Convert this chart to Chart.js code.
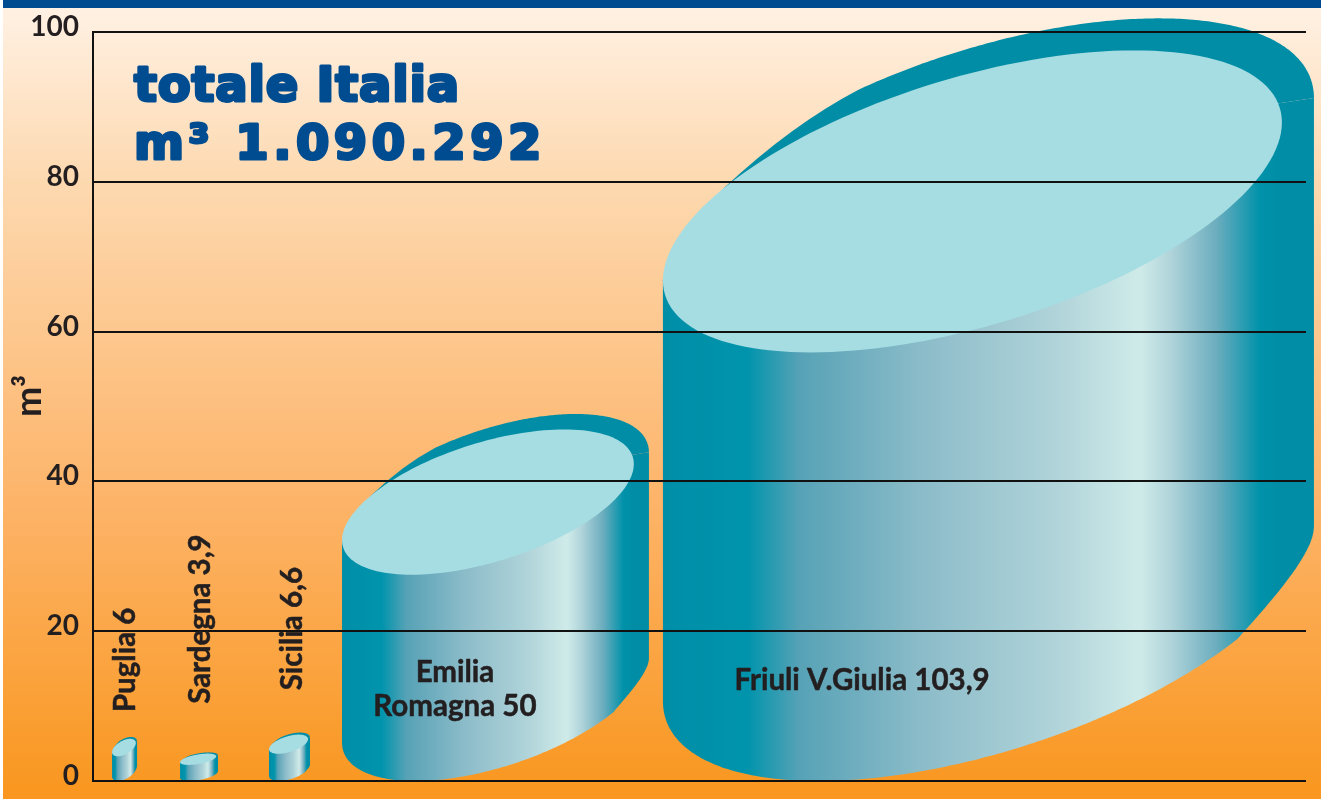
<!DOCTYPE html>
<html lang="it">
<head>
<meta charset="utf-8">
<title>Totale Italia</title>
<script src="https://cdn.jsdelivr.net/npm/chart.js@4/dist/chart.umd.js"></script>
<style>
  html, body { margin: 0; padding: 0; background: #fff; }
  canvas { display: block; }
</style>
</head>
<body>
<canvas id="chart" width="1326" height="799"></canvas>
<script>
// Regional volumes, in m3 on the value axis
const regions = ['Puglia', 'Sardegna', 'Sicilia', 'Emilia Romagna', 'Friuli V.Giulia'];
const volumes = [6, 3.9, 6.6, 50, 103.9];
const yTicks = [0, 20, 40, 60, 80, 100];
const headline = ['totale Italia', 'm³ 1.090.292'];
const yAxisName = 'm³';

// Tank placement along the hidden horizontal scale (0-100)
const tankCentre = [2.6, 8.74, 16.2, 33.18, 73.82];
const tankDiameter = [2.06, 3.13, 3.38, 25.3, 53.67];

// Label anchors as [x-scale, y-scale] pairs; the first three run vertically
const labelAnchor = [[2.7, 9.2], [8.9, 10.3], [16.45, 12.1], [29.84, 13.2], [63.4, 12.1]];

const INK = '#231f20';
const BLUE = '#004c91';
const TEAL = '#008da5';
const LID = '#a6dde2';
const LABEL_FONT = 'bold 29.5px Lato, "Noto Sans", sans-serif';

const wallStops = [
  [0, '#008ea7'], [0.13, '#0094ac'], [0.21, '#57a2b6'], [0.4, '#8cbcc9'],
  [0.6, '#afd3d9'], [0.733, '#cfebe9'], [0.78, '#b0d4da'], [0.85, '#6cadbe'], [0.917, '#0092aa'], [0.95, TEAL], [1, TEAL]
];

const SKEW = -0.55;        // phase shift that tilts the lid ellipses
const RIM_RY = 0.219;      // outer rim half-height, share of tank height
const LID_RY = 0.198;      // inner lid half-height
const LID_CY = 0.24;       // inner lid centre below the tank top
const HEIGHT_SHARE = 0.98; // the curved back rim stops just short of the full height
const RIM_JOIN_X = 0.0945; // where the back rim emerges from behind the lid, share of width
const RIM_CTRL_T = 4.06;   // ring angle used as the control point of the rim's taper
const RIM_FREE_T = 4.3;    // ring angle at which the rim follows its own ellipse
const FOOT_KINK_T = 0.7;   // ring angle of the small kink at the lower right of the wall

function ringPoint(cx, cy, rx, ry, t) {
  return [cx + rx * Math.cos(t), cy + ry * Math.sin(t + SKEW)];
}

function trace(ctx, cx, cy, rx, ry, from, to, first) {
  const steps = 160;
  for (let i = 0; i <= steps; i++) {
    const t = from + (to - from) * i / steps;
    const p = ringPoint(cx, cy, rx, ry, t);
    if (i === 0 && first) ctx.moveTo(p[0], p[1]); else ctx.lineTo(p[0], p[1]);
  }
}

function drawTank(ctx, xScale, yScale, index) {
  const left = xScale.getPixelForValue(tankCentre[index] - tankDiameter[index] / 2);
  const right = xScale.getPixelForValue(tankCentre[index] + tankDiameter[index] / 2);
  const base = yScale.getPixelForValue(0);
  const height = (base - yScale.getPixelForValue(volumes[index])) * HEIGHT_SHARE;
  const top = base - height;
  const width = right - left;
  const cx = (left + right) / 2;
  const rx = width / 2;
  const ry = height * RIM_RY;
  const lidRx = width * 0.4754;
  const lidCx = left + lidRx;
  const lidCy = top + height * LID_CY;
  const lidRy = height * LID_RY;

  const lidLeft = ringPoint(lidCx, lidCy, lidRx, lidRy, Math.PI);
  const upperRight = ringPoint(cx, top + ry, rx, ry, 0);
  const footRight = ringPoint(cx, base - ry, rx, ry, 0);
  const kink = ringPoint(cx, base - ry, rx, ry, FOOT_KINK_T);
  const joinT = Math.PI + Math.acos((lidCx - (left + width * RIM_JOIN_X)) / lidRx);
  const join = ringPoint(lidCx, lidCy, lidRx, lidRy, joinT);

  // Cylinder wall: left edge, front curve of the foot, right edge
  const wall = ctx.createLinearGradient(left, 0, right, 0);
  wallStops.forEach(s => wall.addColorStop(s[0], s[1]));
  ctx.fillStyle = wall;
  ctx.beginPath();
  trace(ctx, cx, base - ry, rx, ry, Math.PI, FOOT_KINK_T, true);
  ctx.bezierCurveTo(
    kink[0] + width * 0.058, kink[1] - height * 0.055,
    right, footRight[1] + height * 0.034,
    footRight[0], footRight[1]
  );
  ctx.lineTo(upperRight[0], upperRight[1]);
  ctx.lineTo(join[0], join[1]);
  ctx.lineTo(lidLeft[0], lidLeft[1]);
  ctx.closePath();
  ctx.fill();

  // Back rim, tapering into the lid edge on its left
  const ctrl = ringPoint(cx, top + ry, rx, ry, RIM_CTRL_T);
  const free = ringPoint(cx, top + ry, rx, ry, RIM_FREE_T);
  ctx.fillStyle = TEAL;
  ctx.beginPath();
  ctx.moveTo(join[0], join[1]);
  ctx.quadraticCurveTo(ctrl[0], ctrl[1], free[0], free[1]);
  trace(ctx, cx, top + ry, rx, ry, RIM_FREE_T, 2 * Math.PI, false);
  ctx.closePath();
  ctx.fill();

  // Inner lid
  ctx.fillStyle = LID;
  ctx.beginPath();
  trace(ctx, lidCx, lidCy, lidRx, lidRy, 0, 2 * Math.PI, true);
  ctx.closePath();
  ctx.fill();
}

function valueText(v) {
  return String(v).replace('.', ',');
}

const tankPlugin = {
  id: 'tanks',
  beforeDraw(chart) {
    const { ctx, width, height } = chart;
    const sky = ctx.createLinearGradient(0, 8, 0, 790);
    sky.addColorStop(0, '#fff1e3');
    sky.addColorStop(0.22, '#fdd9b0');
    sky.addColorStop(0.63, '#fdb469');
    sky.addColorStop(1, '#f99720');
    ctx.save();
    ctx.fillStyle = '#ffffff';
    ctx.fillRect(0, 0, width, height);
    ctx.fillStyle = sky;
    ctx.fillRect(3, 8, 1318, 791);
    ctx.fillStyle = BLUE;
    ctx.fillRect(3, 0, 1318, 8);
    ctx.restore();
  },
  beforeDatasetDraw(chart) {
    const ctx = chart.ctx;
    ctx.save();
    volumes.forEach((_, i) => drawTank(ctx, chart.scales.x, chart.scales.y, i));
    ctx.restore();
    return false;
  },
  afterDraw(chart) {
    const { ctx, scales: { x, y } } = chart;
    ctx.save();

    // Headline block
    ctx.fillStyle = BLUE;
    ctx.strokeStyle = BLUE;
    ctx.lineWidth = 3;
    ctx.lineJoin = 'round';
    ctx.textAlign = 'left';
    ctx.textBaseline = 'alphabetic';
    ctx.font = 'bold 48px "DejaVu Sans", sans-serif';
    ctx.letterSpacing = '0.8px';
    ctx.fillText(headline[0], 134, 101);
    ctx.strokeText(headline[0], 134, 101);
    ctx.letterSpacing = '4.5px';
    ctx.fillText(headline[1], 134, 159);
    ctx.strokeText(headline[1], 134, 159);
    ctx.letterSpacing = '0px';

    // Value axis name
    ctx.fillStyle = INK;
    ctx.save();
    ctx.translate(41, 396);
    ctx.rotate(-Math.PI / 2);
    ctx.textAlign = 'center';
    ctx.font = 'bold 36px Lato, "Noto Sans", sans-serif';
    ctx.fillText(yAxisName, 0, 0);
    ctx.restore();

    // Region labels
    ctx.strokeStyle = INK;
    ctx.lineWidth = 0.5;
    ctx.font = LABEL_FONT;
    const put = (text, px, py) => { ctx.fillText(text, px, py); ctx.strokeText(text, px, py); };
    regions.forEach((name, i) => {
      const px = x.getPixelForValue(labelAnchor[i][0]);
      const py = y.getPixelForValue(labelAnchor[i][1]);
      if (i < 3) {
        ctx.save();
        ctx.translate(px, py);
        ctx.rotate(-Math.PI / 2);
        ctx.textAlign = 'left';
        ctx.textBaseline = 'middle';
        put(name + ' ' + valueText(volumes[i]), 0, 0);
        ctx.restore();
      } else if (i === 3) {
        const parts = name.split(' ');
        ctx.textAlign = 'center';
        ctx.textBaseline = 'alphabetic';
        put(parts[0], px, py);
        put(parts[1] + ' ' + valueText(volumes[i]), px, py + 34);
      } else {
        ctx.textAlign = 'center';
        ctx.textBaseline = 'alphabetic';
        put(name + ' ' + valueText(volumes[i]), px, py);
      }
    });
    ctx.restore();
  }
};

new Chart(document.getElementById('chart'), {
  type: 'bar',
  data: {
    labels: regions,
    datasets: [{
      label: yAxisName,
      data: regions.map((_, i) => ({ x: tankCentre[i], y: volumes[i] })),
      backgroundColor: TEAL
    }]
  },
  plugins: [tankPlugin],
  options: {
    responsive: false,
    animation: false,
    layout: { padding: { top: 32, right: 20, bottom: 18, left: 0 } },
    plugins: { legend: { display: false }, tooltip: { enabled: false } },
    scales: {
      x: { type: 'linear', min: 0, max: 100, offset: false, display: false },
      y: {
        min: 0,
        max: 100,
        afterBuildTicks(axis) { axis.ticks = yTicks.map(value => ({ value })); },
        afterFit(axis) { axis.width = 93; axis.paddingTop = 0; axis.paddingBottom = 0; },
        grid: { color: '#111', lineWidth: 2, drawTicks: false, z: 1 },
        border: { color: '#111', width: 2, z: 1 },
        ticks: {
          color: INK,
          padding: 14,
          labelOffset: -5,
          font: { family: 'Lato, "Noto Sans", sans-serif', weight: 'bold', size: 28 }
        }
      }
    }
  }
});
</script>
</body>
</html>
